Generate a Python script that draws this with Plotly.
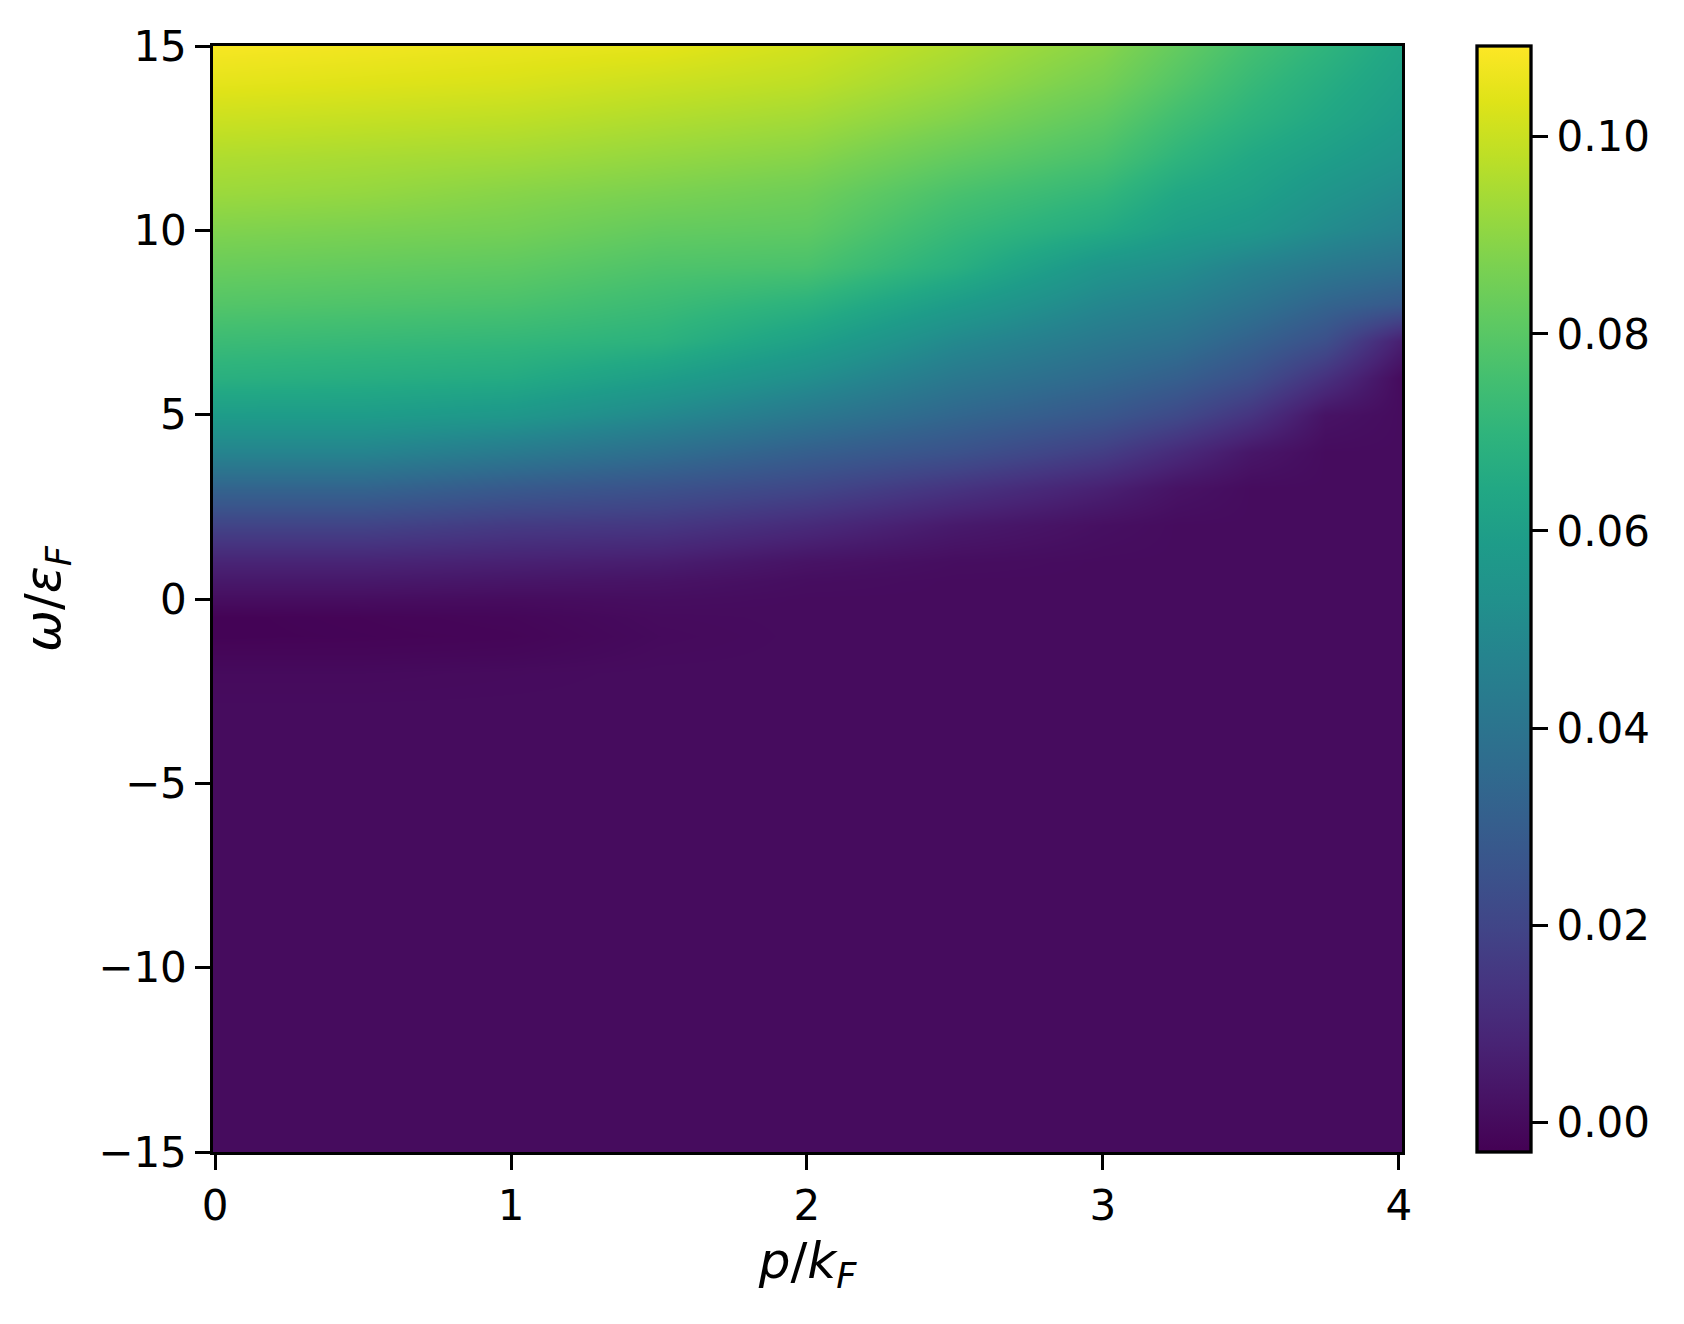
import plotly.graph_objects as go

# momentum p/k_F (columns) and frequency omega/eps_F (rows)
p_vals = [0.0, 0.5, 1.0, 1.5, 2.0, 2.5, 3.0, 3.25, 3.5, 3.75, 4.0]
omega_vals = [-15, -10, -5, -3, -2, -1.5, -1, -0.5, 0, 0.5, 1, 2, 3, 4, 5, 6, 7,
              8, 9, 10, 11, 12, 13, 14, 15]

# values (one row per omega, columns follow p_vals)
z_rows = [
    [0.0004, 0.0004, 0.0004, 0.0004, 0.0004, 0.0004, 0.0004, 0.0004, 0.0004, 0.0004, 0.0004],  # -15
    [0.0004, 0.0004, 0.0004, 0.0004, 0.0004, 0.0004, 0.0004, 0.0004, 0.0004, 0.0004, 0.0004],  # -10
    [0.0004, 0.0004, 0.0004, 0.0004, 0.0004, 0.0004, 0.0004, 0.0004, 0.0004, 0.0004, 0.0004],  # -5
    [0.0004, 0.0004, 0.0004, 0.0004, 0.0004, 0.0004, 0.0004, 0.0004, 0.0004, 0.0004, 0.0004],  # -3
    [-0.0002, -0.0002, 0.0001, 0.0004, 0.0004, 0.0004, 0.0004, 0.0004, 0.0004, 0.0004, 0.0004],  # -2
    [-0.0013, -0.0013, -0.0010, 0.0001, 0.0004, 0.0004, 0.0004, 0.0004, 0.0004, 0.0004, 0.0004],  # -1.5
    [-0.0024, -0.0021, -0.0017, -0.0002, 0.0004, 0.0004, 0.0004, 0.0004, 0.0004, 0.0004, 0.0004],  # -1
    [-0.0024, -0.0019, -0.0013, 0.0001, 0.0004, 0.0004, 0.0004, 0.0004, 0.0004, 0.0004, 0.0004],  # -0.5
    [0.0009, 0.0009, 0.0004, 0.0009, 0.0004, 0.0004, 0.0004, 0.0004, 0.0004, 0.0004, 0.0004],  # 0
    [0.0043, 0.0043, 0.0034, 0.0026, 0.0009, 0.0004, 0.0004, 0.0004, 0.0004, 0.0004, 0.0004],  # 0.5
    [0.0082, 0.0082, 0.0071, 0.0060, 0.0026, 0.0009, 0.0004, 0.0004, 0.0004, 0.0004, 0.0004],  # 1
    [0.0194, 0.0194, 0.0161, 0.0150, 0.0105, 0.0049, 0.0015, 0.0004, 0.0004, 0.0004, 0.0004],  # 2
    [0.0329, 0.0329, 0.0284, 0.0251, 0.0206, 0.0138, 0.0071, 0.0026, 0.0004, 0.0004, 0.0004],  # 3
    [0.0475, 0.0475, 0.0430, 0.0374, 0.0307, 0.0251, 0.0172, 0.0105, 0.0037, 0.0004, 0.0004],  # 4
    [0.0587, 0.0587, 0.0565, 0.0497, 0.0419, 0.0340, 0.0273, 0.0217, 0.0138, 0.0026, 0.0004],  # 5
    [0.0677, 0.0666, 0.0654, 0.0598, 0.0520, 0.0419, 0.0351, 0.0307, 0.0239, 0.0127, 0.0004],  # 6
    [0.0733, 0.0722, 0.0711, 0.0688, 0.0610, 0.0497, 0.0419, 0.0385, 0.0318, 0.0239, 0.0071],  # 7
    [0.0789, 0.0778, 0.0767, 0.0733, 0.0688, 0.0587, 0.0486, 0.0452, 0.0396, 0.0329, 0.0284],  # 8
    [0.0834, 0.0823, 0.0812, 0.0778, 0.0767, 0.0677, 0.0553, 0.0520, 0.0464, 0.0419, 0.0385],  # 9
    [0.0879, 0.0868, 0.0856, 0.0823, 0.0812, 0.0722, 0.0654, 0.0598, 0.0565, 0.0508, 0.0464],  # 10
    [0.0924, 0.0912, 0.0890, 0.0868, 0.0845, 0.0767, 0.0710, 0.0643, 0.0610, 0.0553, 0.0508],  # 11
    [0.0957, 0.0946, 0.0935, 0.0912, 0.0890, 0.0823, 0.0766, 0.0699, 0.0643, 0.0598, 0.0553],  # 12
    [0.1002, 0.0991, 0.0980, 0.0957, 0.0935, 0.0879, 0.0811, 0.0744, 0.0688, 0.0638, 0.0587],  # 13
    [0.1047, 0.1036, 0.1025, 0.1002, 0.0980, 0.0924, 0.0856, 0.0789, 0.0722, 0.0666, 0.0610],  # 14
    [0.1081, 0.1070, 0.1058, 0.1047, 0.1013, 0.0957, 0.0890, 0.0823, 0.0755, 0.0699, 0.0632],  # 15
]

x_ticks = [0, 1, 2, 3, 4]
x_ticktext = ["0", "1", "2", "3", "4"]
y_ticks = [-15, -10, -5, 0, 5, 10, 15]
y_ticktext = ["\u221215", "\u221210", "\u22125", "0", "5", "10", "15"]
cb_ticks = [0.00, 0.02, 0.04, 0.06, 0.08, 0.10]
cb_ticktext = ["0.00", "0.02", "0.04", "0.06", "0.08", "0.10"]
z_min, z_max = -0.0030, 0.1092

viridis = [
    "#440154", "#471365", "#482475", "#463480", "#414487", "#3b528b", "#355f8d",
    "#2f6c8e", "#2a788e", "#25848e", "#21918c", "#1e9c89", "#22a884", "#2fb47c",
    "#44bf70", "#5ec962", "#7ad151", "#9bd93c", "#bddf26", "#dfe318", "#fde725",
]
colorscale = [[i / (len(viridis) - 1), c] for i, c in enumerate(viridis)]

FONT = "DejaVu Sans"
FS = 42
FS_TITLE = 50
LW = 3.3

fig = go.Figure(
    go.Heatmap(
        x=p_vals,
        y=omega_vals,
        z=z_rows,
        zsmooth="best",
        zmin=z_min,
        zmax=z_max,
        colorscale=colorscale,
        colorbar=dict(
            x=1.0631,
            xanchor="left",
            xpad=0,
            y=0.5,
            yanchor="middle",
            ypad=0,
            len=1.0,
            lenmode="fraction",
            thickness=54,
            outlinewidth=LW,
            outlinecolor="black",
            ticks="outside",
            ticklen=16,
            tickwidth=LW,
            tickcolor="black",
            tickvals=cb_ticks,
            ticktext=cb_ticktext,
            tickfont=dict(family=FONT, size=FS, color="black"),
        ),
    )
)

axis_common = dict(
    showgrid=False,
    zeroline=False,
    showline=True,
    mirror=True,
    linecolor="black",
    linewidth=LW,
    ticks="outside",
    ticklen=14.6,
    tickwidth=LW,
    tickcolor="black",
    tickfont=dict(family=FONT, size=FS, color="black"),
)

fig.update_layout(
    width=1684,
    height=1324,
    margin=dict(l=205, r=290, t=38, b=180),
    paper_bgcolor="white",
    plot_bgcolor="white",
    font=dict(family=FONT, color="black"),
    xaxis=dict(
        range=[-0.007, 4.0105],
        tickvals=x_ticks,
        ticktext=x_ticktext,
        title=dict(text="<i>p</i>/<i>k<sub>F</sub></i>",
                   font=dict(family=FONT, size=FS_TITLE), standoff=14),
        **axis_common,
    ),
    yaxis=dict(
        range=[-15, 15],
        tickvals=y_ticks,
        ticktext=y_ticktext,
        title=dict(text="<i>ω</i>/<i>ε<sub>F</sub></i>",
                   font=dict(family=FONT, size=FS_TITLE), standoff=22),
        **axis_common,
    ),
)

fig.write_html("out.html")
